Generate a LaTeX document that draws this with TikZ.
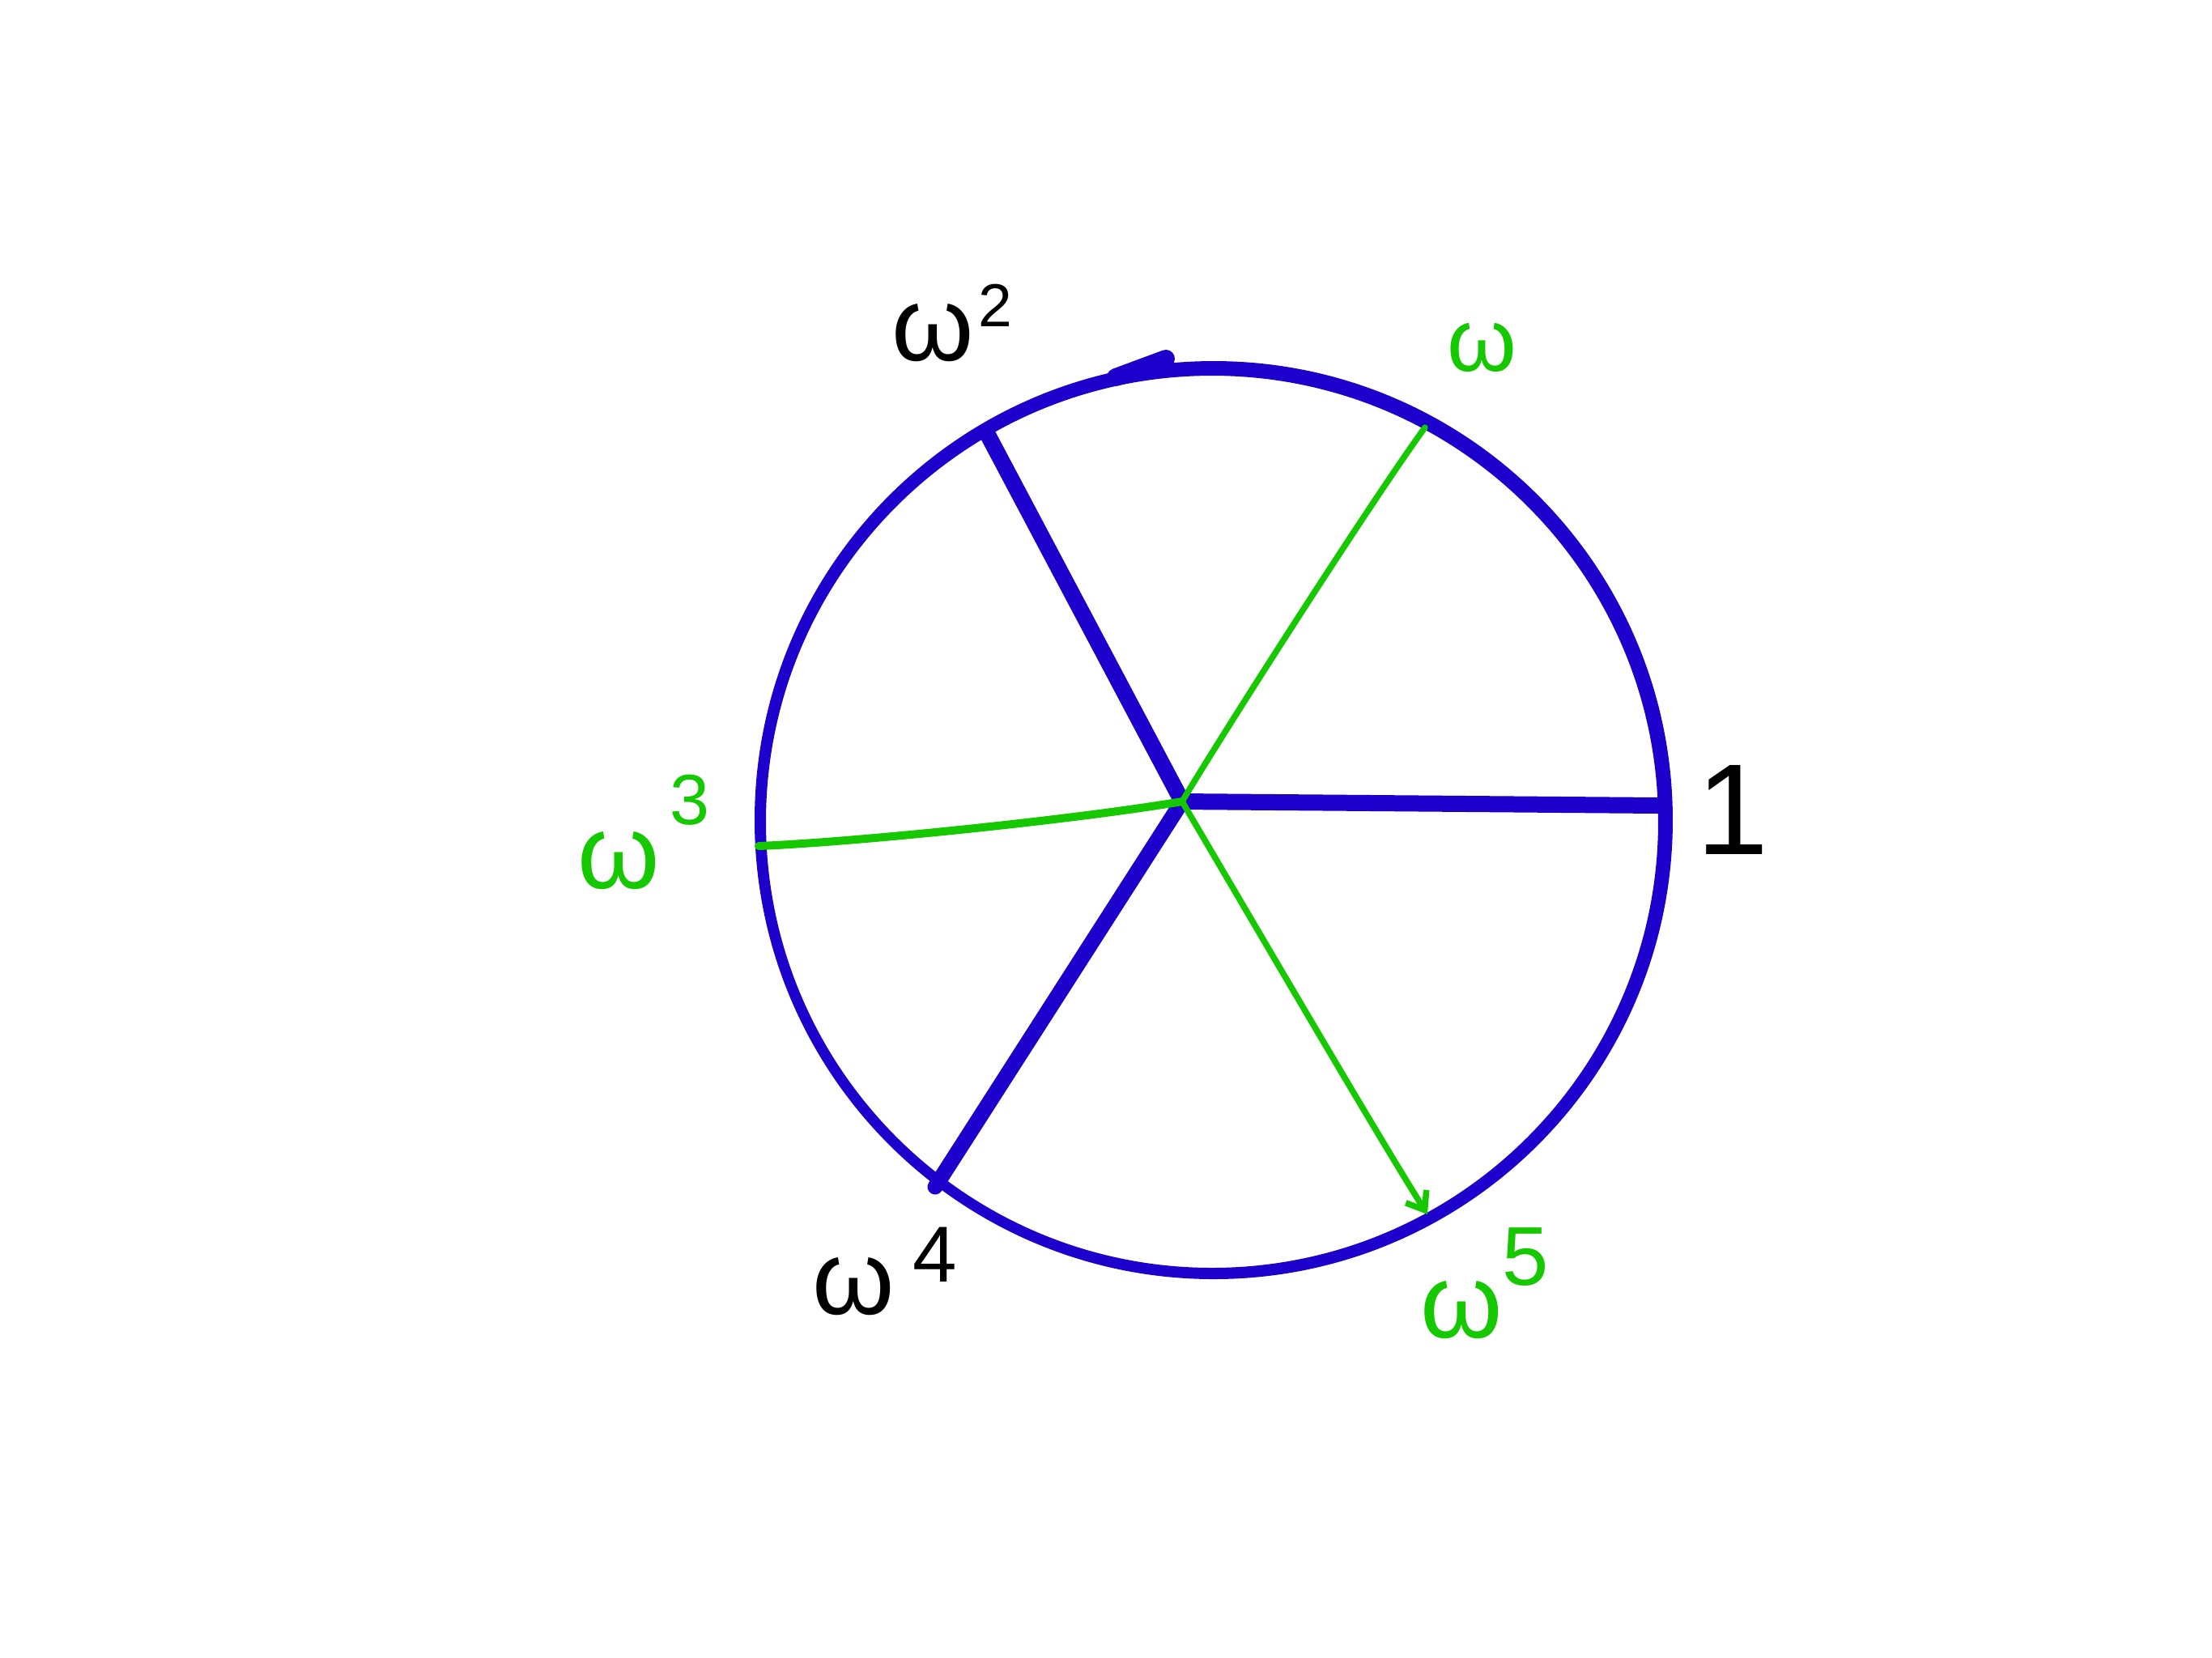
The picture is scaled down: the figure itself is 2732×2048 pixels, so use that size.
\documentclass[tikz,border=0pt]{standalone}
\usepackage{fontspec}
\newfontfamily\hand{Liberation Sans}
\usetikzlibrary{arrows.meta}
\definecolor{penblue}{RGB}{30,0,204}
\definecolor{pengreen}{RGB}{22,200,0}
\begin{document}
\begin{tikzpicture}[x=0.1pt,y=-0.1pt,
  bluestroke/.style={draw=penblue,line cap=round,line join=round},
  greenstroke/.style={draw=pengreen,line cap=round,line join=round,line width=0.75pt},
  lbl/.style={inner sep=0pt,outer sep=0pt,anchor=base west,font=\hand\fontsize{13}{13}\selectfont}]
\useasboundingbox[fill=white] (0,0) rectangle (2732,2048);

\coordinate (c) at (1497,1015);
\coordinate (cout) at (1499,1013);
\coordinate (hub) at (1460,990);
\coordinate (r0) at (2050,995);
\coordinate (r2) at (1220,537);
\coordinate (r4) at (1155,1466);
\coordinate (r1) at (1760,528);
\coordinate (r3) at (937,1045);
\coordinate (r5) at (1763,1500);
\coordinate (tA) at (1440,443);
\coordinate (tB) at (1378,466);

% circle (ring, thicker on the right)
\fill[penblue, even odd rule] (cout) circle[radius=567] (c) circle[radius=551];
\draw[bluestroke, line width=2.2pt] (tA) -- (tB);

% blue spokes
\draw[bluestroke, line width=2pt] (hub) -- (r0);
\draw[bluestroke, line width=2pt] (hub) -- (r2);
\draw[bluestroke, line width=1.9pt] (hub) -- (r4);

% green spokes
\draw[greenstroke] (hub) .. controls (1520,890) and (1700,610) .. (r1);
\draw[greenstroke, line width=1pt] (hub) .. controls (1330,1012) and (1060,1040) .. (r3);
\draw[greenstroke, -{Straight Barb[length=2pt,width=3pt]}] (hub) .. controls (1560,1160) and (1700,1400) .. (r5);

% labels
\node[lbl] (l2) at (1102,445) {ω\kern0.5pt\raisebox{4.2pt}{\fontsize{7.5}{7.5}\selectfont 2}};
\node[lbl, text=pengreen, font=\hand\fontsize{11}{11}\selectfont] (l1) at (1788,458) {ω};
\node[lbl, text=pengreen] (l3) at (714,1097) {ω\kern1.2pt\raisebox{7.9pt}{\fontsize{8.8}{8.8}\selectfont 3}};
\node[lbl] (l4) at (1004,1623) {ω\kern2.2pt\raisebox{4pt}{\fontsize{9.8}{9.8}\selectfont 4}};
\node[lbl, text=pengreen] (l5) at (1754,1652) {ω\kern0pt\raisebox{6.5pt}{\fontsize{10.3}{10.3}\selectfont 5}};
\node[lbl, anchor=base, font=\hand\fontsize{16}{16}\selectfont] (l0) at (2140,1055) {1};
\end{tikzpicture}
\end{document}
